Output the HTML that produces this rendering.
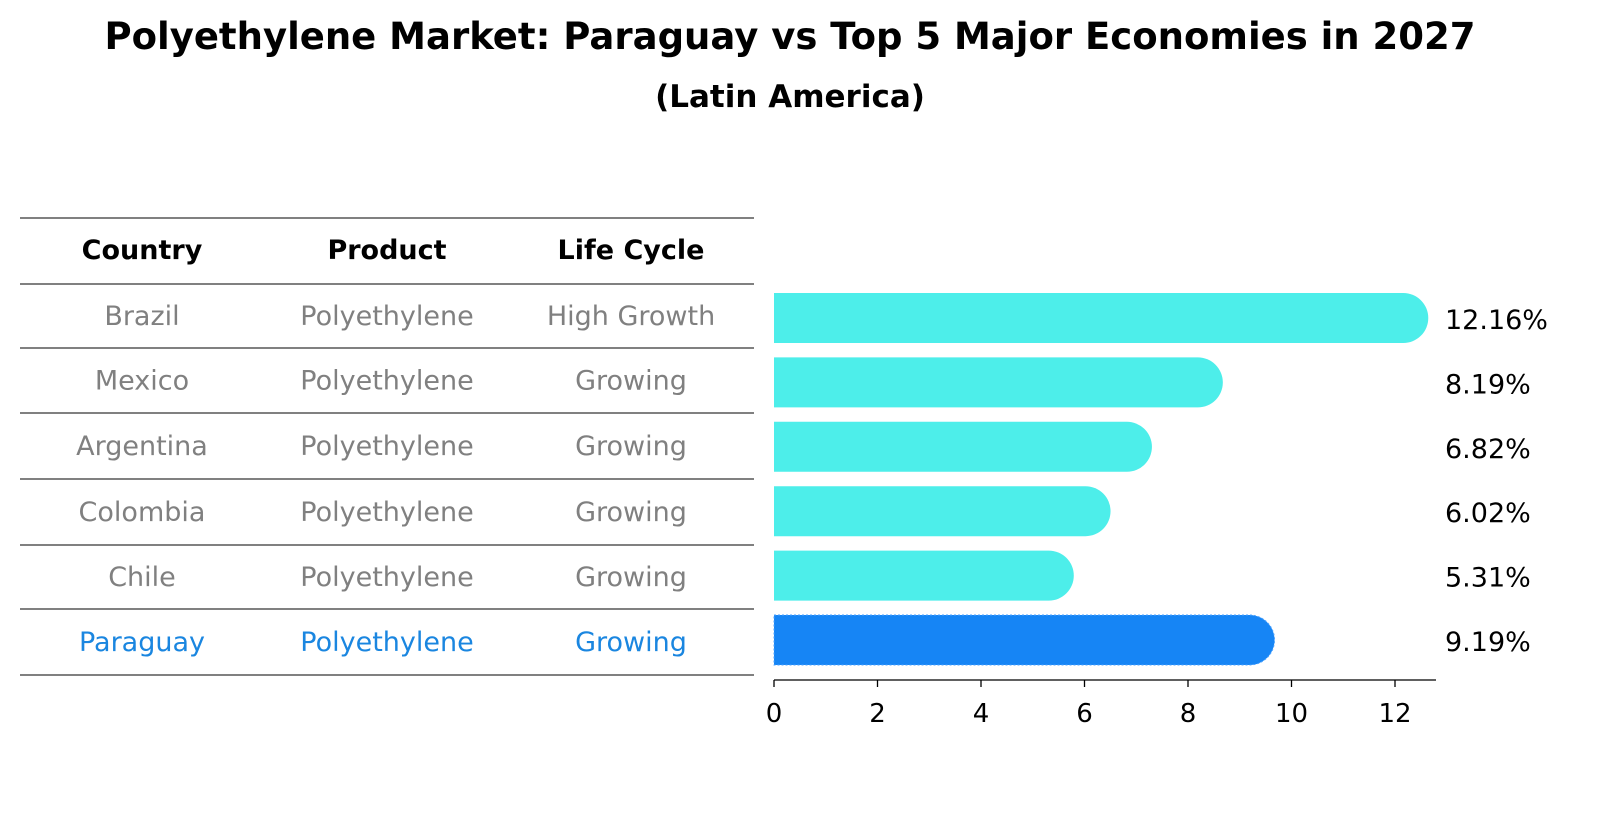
<!DOCTYPE html>
<html><head><meta charset="utf-8"><style>
body{margin:0;background:#fff;font-family:"Liberation Sans","DejaVu Sans",sans-serif;}
svg text{font-family:"DejaVu Sans","Liberation Sans",sans-serif;}
</style></head><body>
<svg id="chart" width="1604" height="823" viewBox="0 0 1604 823" xmlns="http://www.w3.org/2000/svg">
<text x="790" y="49" text-anchor="middle" font-size="37" font-weight="bold">Polyethylene Market: Paraguay vs Top 5 Major Economies in 2027</text>
<text x="790" y="107" text-anchor="middle" font-size="31" font-weight="bold">(Latin America)</text>
<g id="table"></g>
<g id="bars"></g>
</svg>
<script>
const countries=["Brazil","Mexico","Argentina","Colombia","Chile","Paraguay"];
const products=["Polyethylene","Polyethylene","Polyethylene","Polyethylene","Polyethylene","Polyethylene"];
const lifeCycles=["High Growth","Growing","Growing","Growing","Growing","Growing"];
const values=[12.16,8.19,6.82,6.02,5.31,9.19];
const ticks=[0,2,4,6,8,10,12];
const NS="http://www.w3.org/2000/svg";
function mk(tag,attrs,parent,txt){const e=document.createElementNS(NS,tag);for(const k in attrs)e.setAttribute(k,attrs[k]);if(txt!==undefined)e.textContent=txt;parent.appendChild(e);return e;}
const table=document.getElementById('table'),bars=document.getElementById('bars');
const lineYs=[218,284,348,413,479,545,609,675];
lineYs.forEach(y=>{const l=mk('line',{x1:20,x2:754,y1:y,y2:y,stroke:'#000','stroke-width':1},table);

});
const colX=[142,387,631];
["Country","Product","Life Cycle"].forEach((h,i)=>{const t=mk('text',{x:colX[i],y:259,'text-anchor':'middle','font-size':27,'font-weight':'bold'},table,h);

});
const x=v=>774+v*51.75;
const rowY=i=>318+i*64.4;
countries.forEach((c,i)=>{
  const hl=c==="Paraguay";const col=hl?'#1a86e0':'#808080';
  const cy=(lineYs[i+1]+lineYs[i+2])/2;
  [c,products[i],lifeCycles[i]].forEach((s,j)=>{const t=mk('text',{x:colX[j],y:cy+9,'text-anchor':'middle','font-size':27,fill:col},table,s);
  
  });
  const by=rowY(i),r=25;
  const fill=hl?'#1685f5':'#4deeea';
  const p=mk('path',{d:`M774 ${by-r} L${x(values[i])} ${by-r} A${r} ${r} 0 0 1 ${x(values[i])} ${by+r} L774 ${by+r} Z`,fill:fill},bars);
  if(hl){p.setAttribute('stroke','#4da3ff');p.setAttribute('stroke-dasharray','2 2');}
  
  
  const t=mk('text',{x:1445,y:by+11,'font-size':27},bars,values[i].toFixed(2)+'%');
  
  
});
const ax=mk('line',{x1:774,x2:1436,y1:680,y2:680,stroke:'#000','stroke-width':1.3},bars);


ticks.forEach(v=>{const tl=mk('line',{x1:x(v),x2:x(v),y1:680,y2:687,stroke:'#000','stroke-width':1.3},bars);


const t=mk('text',{x:x(v),y:722,'text-anchor':'middle','font-size':26},bars,String(v));

});
</script>
</body></html>
